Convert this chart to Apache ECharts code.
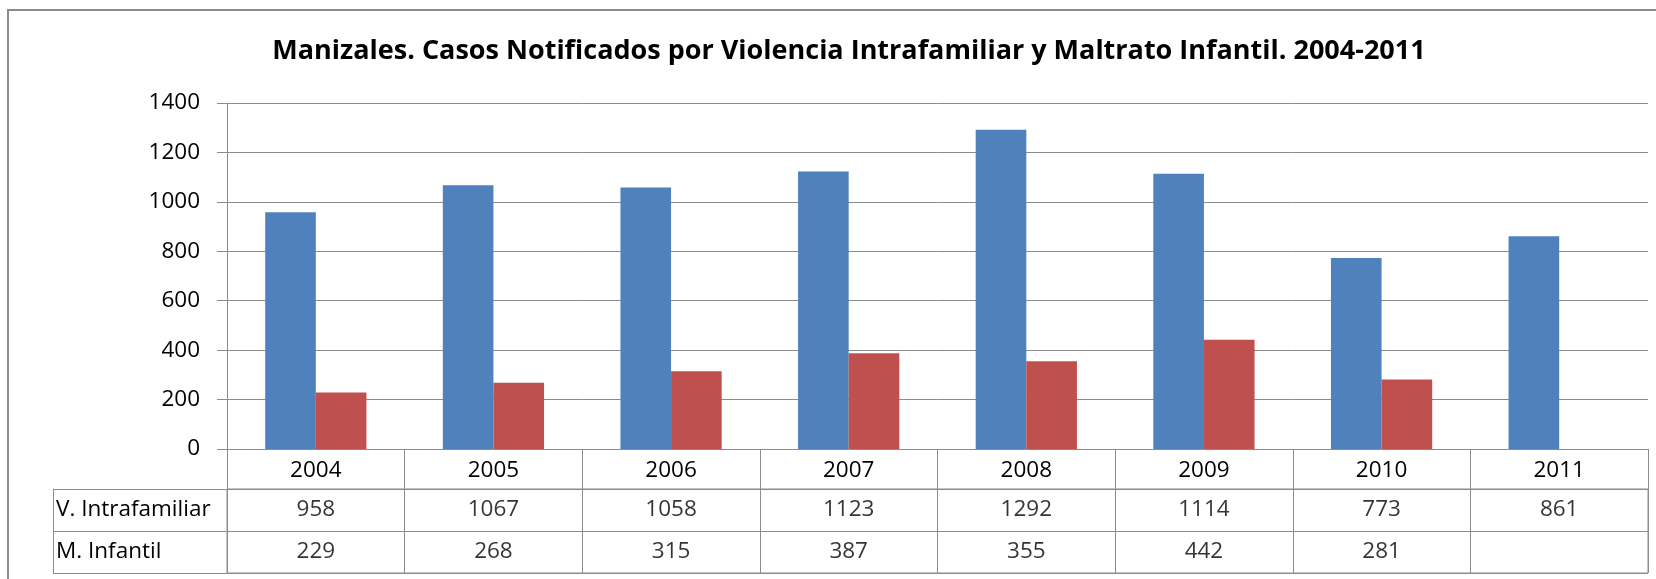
<!DOCTYPE html>
<html><head><meta charset="utf-8">
<script src="https://cdn.jsdelivr.net/npm/echarts@6/dist/echarts.min.js"></script>
<style>
html,body{margin:0;padding:0;background:#fff;}
#wrap{position:relative;width:1656px;height:579px;overflow:hidden;}
#c{width:1656px;height:579px;}
#frame{position:absolute;left:7px;top:9px;width:2000px;height:1000px;border:2px solid #8c8c8c;pointer-events:none;}
</style>
</head><body>
<div id="wrap"><div id="c"></div><div id="frame"></div></div>
<script>
const years = ['2004','2005','2006','2007','2008','2009','2010','2011'];
const vIntrafamiliar = [958,1067,1058,1123,1292,1114,773,861];
const mInfantil = [229,268,315,387,355,442,281,null];
const rowNames = ['V. Intrafamiliar','M. Infantil'];
const rowValues = [vIntrafamiliar, mInfantil];
const yMin = 0, yMax = 1400, yStep = 200;
const titleText = 'Manizales. Casos Notificados por Violencia Intrafamiliar y Maltrato Infantil. 2004-2011';

const FONT = 'Open Sans';
const FS = 22.5;
const GRAY = '#8c8c8c';
const tableData = [];
rowValues.forEach((vals, r) => vals.forEach((v, i) => { if (v !== null) tableData.push([years[i], rowNames[r], v]); }));

const chart = echarts.init(document.getElementById('c'), null, {renderer:'canvas'});
chart.setOption({
  animation: false,
  backgroundColor: '#fff',
  textStyle: {fontFamily: FONT},
  title: {
    text: titleText, left: 844, top: 33, textAlign: 'center',
    textStyle: {fontFamily: FONT, fontSize: 27, fontWeight: 'bold', color: '#000'}
  },
  grid: [
    {left: 227, right: 8, top: 103, height: 346},
    {left: 227, right: 8, top: 489, height: 84, show: true, borderColor: GRAY, borderWidth: 1}
  ],
  xAxis: [
    {gridIndex: 0, type: 'category', data: years,
     axisLine: {show: true, lineStyle: {color: GRAY, width: 1}},
     axisTick: {show: true, interval: 0, length: 40, lineStyle: {color: GRAY}},
     axisLabel: {interval: 0, margin: 10, fontSize: FS, color: '#000', fontFamily: FONT},
     splitLine: {show: false}},
    {gridIndex: 1, type: 'category', data: years,
     axisLine: {show: false}, axisTick: {show: false}, axisLabel: {show: false},
     splitLine: {show: true, interval: 0, lineStyle: {color: GRAY}}}
  ],
  yAxis: [
    {gridIndex: 0, type: 'value', min: yMin, max: yMax, interval: yStep,
     axisLine: {show: true, lineStyle: {color: GRAY}},
     axisTick: {show: true, length: 10, lineStyle: {color: GRAY}},
     axisLabel: {margin: 27, fontSize: FS, color: '#000', fontFamily: FONT, formatter: v => String(v)},
     splitLine: {show: true, lineStyle: {color: GRAY}}},
    {gridIndex: 1, type: 'category', data: rowNames, inverse: true,
     axisLine: {show: false},
     axisTick: {show: true, interval: 0, length: 174, lineStyle: {color: GRAY}},
     axisLabel: {interval: 0, align: 'left', margin: 171, fontSize: FS, color: '#000', fontFamily: FONT},
     splitLine: {show: true, interval: 0, lineStyle: {color: GRAY}}},
    {gridIndex: 1, type: 'category', data: rowNames, inverse: true, position: 'left', offset: 174,
     axisLine: {show: true, lineStyle: {color: GRAY}},
     axisTick: {show: false}, axisLabel: {show: false}, splitLine: {show: false}}
  ],
  series: [
    {name: rowNames[0], type: 'bar', xAxisIndex: 0, yAxisIndex: 0, data: vIntrafamiliar,
     itemStyle: {color: '#4F81BD'}, barGap: '0%', barCategoryGap: '43%', silent: true},
    {name: rowNames[1], type: 'bar', xAxisIndex: 0, yAxisIndex: 0, data: mInfantil,
     itemStyle: {color: '#C0504D'}, barGap: '0%', barCategoryGap: '43%', silent: true},
    {name: 'tabla', type: 'scatter', xAxisIndex: 1, yAxisIndex: 1, data: tableData,
     symbolSize: 1, itemStyle: {color: 'transparent'}, silent: true,
     label: {show: true, position: 'inside', formatter: p => String(p.data[2]),
       fontSize: FS, color: '#000', fontFamily: FONT}}
  ]
});
</script>
</body></html>
